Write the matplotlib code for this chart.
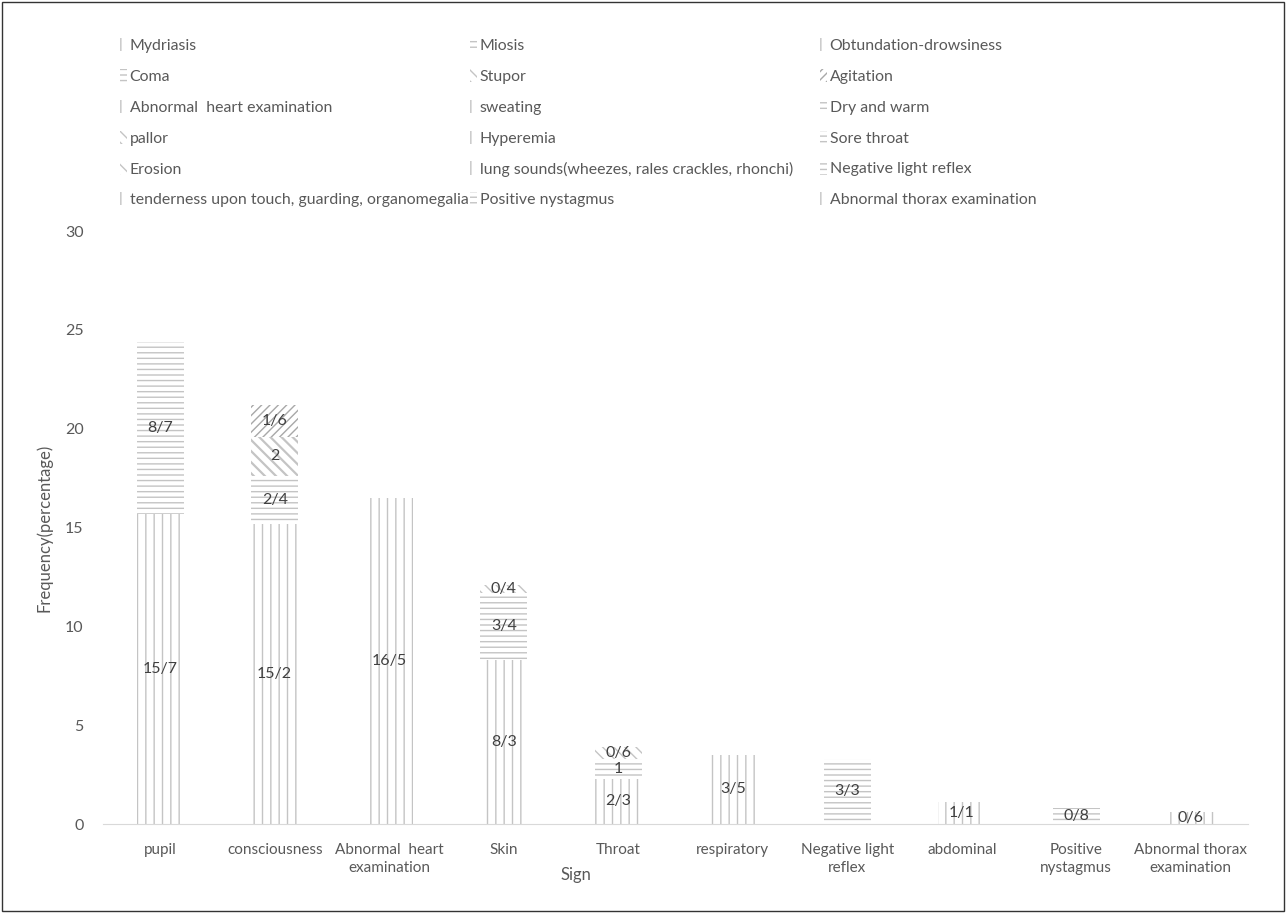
import matplotlib.pyplot as plt
import numpy as np
from matplotlib.patches import Patch, Rectangle

plt.rcParams["font.family"] = ["Lato", "DejaVu Sans"]
plt.rcParams["hatch.linewidth"] = 1.0

# Categories on the x axis
categories = ["pupil", "consciousness", "Abnormal  heart\nexamination", "Skin", "Throat",
              "respiratory", "Negative light\nreflex", "abdominal", "Positive\nnystagmus",
              "Abnormal thorax\nexamination"]

# Signs (stacked series), the category each belongs to, value and printed label
series = ["Mydriasis", "Miosis", "Obtundation-drowsiness", "Coma", "Stupor", "Agitation",
          "Abnormal  heart examination", "sweating", "Dry and warm", "pallor", "Hyperemia",
          "Sore throat", "Erosion", "lung sounds(wheezes, rales crackles, rhonchi)",
          "Negative light reflex", "tenderness upon touch, guarding, organomegalia",
          "Positive nystagmus", "Abnormal thorax examination"]
series_cat = [0, 0, 1, 1, 1, 1, 2, 3, 3, 3, 4, 4, 4, 5, 6, 7, 8, 9]
series_val = [15.7, 8.7, 15.2, 2.4, 2.0, 1.6, 16.5, 8.3, 3.4, 0.4, 2.3, 1.0, 0.6,
              3.5, 3.3, 1.1, 0.8, 0.6]
series_lbl = ["15/7", "8/7", "15/2", "2/4", "2", "1/6", "16/5", "8/3", "3/4", "0/4",
              "2/3", "1", "0/6", "3/5", "3/3", "1/1", "0/8", "0/6"]

V, H = "||", "---"
hatches = [V, H, V, H, "\\\\\\", "////", V, V, H, "\\\\\\", V, H, "\\\\\\", V, H, V, H, V]
hcolors = ["#c4c4c4"] * len(series)
hcolors[5] = "#a8a8a8"
hwidths = [1.0] * len(series)
hwidths[4] = 1.6

fig = plt.figure(figsize=(12.86, 9.13), dpi=100)
ax = fig.add_axes([103 / 1286, 1 - 824 / 913, (1248 - 103) / 1286, (824 - 231) / 913])

x = np.arange(len(categories))
bottom = np.zeros(len(categories))
handles = []
for i, name in enumerate(series):
    vals = np.zeros(len(categories))
    vals[series_cat[i]] = series_val[i]
    with plt.rc_context({"hatch.linewidth": hwidths[i]}):
        cont = ax.bar(x, vals, 0.41, bottom=bottom, color="none", edgecolor=hcolors[i],
                      linewidth=0, hatch=hatches[i])
        handles.append(Patch(facecolor="none", edgecolor=hcolors[i], linewidth=0,
                             hatch=hatches[i], label=name))
    labels = [series_lbl[i] if v > 0 else "" for v in vals]
    ax.bar_label(cont, labels=labels, label_type="center", fontsize=11.5, color="#404040")
    bottom += vals

ax.set_xlim(-0.5, len(categories) - 0.5)
ax.set_ylim(0, 30)
ax.set_yticks(np.arange(0, 31, 5))
ax.set_xticks(x)
ax.set_xticklabels(categories, fontsize=11, color="#595959", linespacing=1.35)
ax.tick_params(axis="y", length=0, pad=14, labelsize=11.5, labelcolor="#595959")
ax.tick_params(axis="x", length=0, pad=14)
for s in ["top", "right", "left"]:
    ax.spines[s].set_visible(False)
ax.spines["bottom"].set_color("#d9d9d9")
ax.set_ylabel("Frequency(percentage)", fontsize=12, color="#595959")
ax.yaxis.set_label_coords(-0.0445, 0.5)
ax.set_xlabel("Sign", fontsize=12, color="#595959", va="center")
ax.xaxis.set_label_coords(0.413, -0.086)

# legend: 3 equal-width columns, filled row by row
ncol = 3
col_x = [120, 470, 820]
for c in range(ncol):
    idx = list(range(c, len(series), ncol))
    fig.legend([handles[k] for k in idx], [series[k] for k in idx],
               loc="upper left", bbox_to_anchor=(col_x[c] / 1286, 1 - 38 / 913),
               frameon=False, fontsize=11.4, labelcolor="#595959", handlelength=0.45,
               handleheight=0.9, handletextpad=0.15, labelspacing=1.0,
               borderpad=0, borderaxespad=0)

fig.patches.append(Rectangle((0.0015, 0.002), 0.997, 0.996, transform=fig.transFigure,
                             fill=False, edgecolor="#333333", linewidth=1))

fig.savefig("out.png", dpi=100)
